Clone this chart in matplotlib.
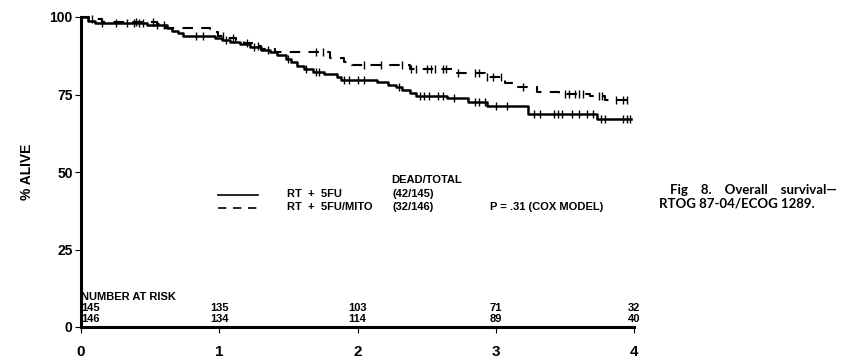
import numpy as np
import matplotlib
matplotlib.use("Agg")
import matplotlib.pyplot as plt

# RT + 5FU  (solid)
t_5fu = [0, 0.05, 0.10, 0.48, 0.62, 0.66, 0.70, 0.74, 0.97, 1.02, 1.08, 1.15, 1.22,
         1.30, 1.37, 1.42, 1.48, 1.52, 1.56, 1.61, 1.68, 1.76, 1.85, 1.88, 2.14, 2.22,
         2.28, 2.32, 2.38, 2.42, 2.65, 2.80, 2.94, 3.23, 3.73, 3.98]
s_5fu = [100, 98.8, 98.2, 97.3, 96.5, 95.5, 94.7, 93.8, 93.2, 92.5, 91.8, 91.2, 90.2,
         89.4, 88.6, 87.8, 86.5, 85.4, 84.3, 83.2, 82.4, 81.5, 80.6, 79.8, 79.0, 78.2,
         77.3, 76.5, 75.6, 74.6, 73.8, 72.6, 71.4, 68.6, 67.0, 67.0]
cens_5fu = [0.15, 0.25, 0.33, 0.38, 0.42, 0.45, 0.55, 0.60, 0.83, 0.88, 1.05, 1.25, 1.35,
            1.50, 1.63, 1.70, 1.72, 1.90, 1.94, 2.00, 2.05, 2.30, 2.45, 2.48, 2.52, 2.58,
            2.62, 2.70, 2.85, 2.88, 2.92, 3.00, 3.08, 3.28, 3.32, 3.42, 3.45, 3.48, 3.55,
            3.60, 3.66, 3.70, 3.76, 3.79, 3.92, 3.95, 3.97]

# RT + 5FU/MITO  (dashed)
t_mito = [0, 0.06, 0.15, 0.55, 0.58, 0.93, 0.99, 1.05, 1.12, 1.18, 1.25, 1.30, 1.40,
          1.80, 1.90, 1.96, 2.38, 2.68, 2.92, 3.07, 3.16, 3.30, 3.46, 3.68, 3.79, 3.98]
s_mito = [100, 99.2, 98.5, 97.8, 96.5, 95.2, 94.0, 93.2, 92.3, 91.5, 90.6, 89.6, 88.6,
          86.8, 85.5, 84.4, 83.2, 82.0, 80.6, 78.8, 77.5, 75.9, 75.2, 74.6, 73.3, 73.3]
cens_mito = [0.08, 0.40, 0.52, 1.03, 1.10, 1.20, 1.28, 1.70, 1.75, 2.05, 2.17, 2.32,
             2.39, 2.42, 2.50, 2.53, 2.56, 2.62, 2.64, 2.73, 2.85, 2.88, 2.94, 2.98,
             3.04, 3.20, 3.50, 3.53, 3.57, 3.60, 3.63, 3.75, 3.77, 3.87, 3.92, 3.95]

risk_years = [0, 1, 2, 3, 4]
risk_5fu = [145, 135, 103, 71, 32]
risk_mito = [146, 134, 114, 89, 40]

x_ticks = [0, 1, 2, 3, 4]
y_ticks = [0, 25, 50, 75, 100]


def step_value(times, surv, t):
    i = np.searchsorted(times, t, side="right") - 1
    return np.asarray(surv)[i]


fig = plt.figure(figsize=(8.66, 3.6), dpi=100)
ax = fig.add_axes([81 / 866, 1 - 327 / 360, 553 / 866, 310 / 360])

ax.step(t_5fu, s_5fu, where="post", color="black", lw=1.8, clip_on=False)
ax.step(t_mito, s_mito, where="post", color="black", lw=1.5,
        dashes=(5, 4), clip_on=False)
ax.plot(cens_5fu, step_value(t_5fu, s_5fu, cens_5fu), ls="none", marker="|",
        ms=6, mew=1.0, color="black", clip_on=False)
ax.plot(cens_mito, step_value(t_mito, s_mito, cens_mito), ls="none", marker="|",
        ms=6, mew=1.0, color="black", clip_on=False)

ax.set_xlim(0, 4)
ax.set_ylim(0, 100)
ax.set_xticks(x_ticks)
ax.set_yticks(y_ticks)
ax.set_xticklabels([str(v) for v in x_ticks], fontsize=11, fontweight="bold",
                   family="Liberation Sans")
ax.set_yticklabels([str(v) for v in y_ticks], fontsize=10, fontweight="bold",
                   family="Liberation Sans")
ax.tick_params(axis="y", length=4, width=0.8, pad=2)
ax.tick_params(axis="x", length=4, width=0.8, pad=9)
for side in ["top", "right"]:
    ax.spines[side].set_visible(False)
ax.spines["left"].set_linewidth(2.2)
ax.spines["bottom"].set_linewidth(2.2)
ax.set_ylabel("% ALIVE", fontsize=10, fontweight="bold", family="Liberation Sans",
              labelpad=11)

# legend block
lx0, lx1 = 0.99, 1.28
ax.plot([lx0, lx1], [42.6, 42.6], color="black", lw=1.2)
ax.plot([lx0, lx1], [38.4, 38.4], color="black", lw=1.2, dashes=(5, 4))
txt = dict(fontsize=8, fontweight="bold", family="Liberation Sans", va="center")
ax.text(1.49, 42.8, "RT  +  5FU", ha="left", **txt)
ax.text(1.49, 38.6, "RT  +  5FU/MITO", ha="left", **txt)
ax.text(2.5, 47.4, "DEAD/TOTAL", ha="center", **txt)
ax.text(2.40, 42.8, "(42/145)", ha="center", **txt)
ax.text(2.40, 38.6, "(32/146)", ha="center", **txt)
ax.text(2.96, 38.6, "P = .31 (COX MODEL)", ha="left", **txt)

# number at risk
nar = dict(fontsize=8, fontweight="bold", family=["Liberation Sans Narrow", "Liberation Sans"],
           va="center")
ax.text(0.0, 9.6, "NUMBER AT RISK", ha="left", **nar)
for yr, a, b in zip(risk_years, risk_5fu, risk_mito):
    ha = "left" if yr == 0 else "center"
    ax.text(yr, 6.0, str(a), ha=ha, **nar)
    ax.text(yr, 2.5, str(b), ha=ha, **nar)

# figure caption
cap = dict(fontsize=9.5, fontweight="bold", family="Lato", va="center")
fig.text(670 / 866, 1 - 190 / 360, "Fig    8.    Overall    survival\u2014", ha="left", **cap)
fig.text(659 / 866, 1 - 203 / 360, "RTOG 87-04/ECOG 1289.", ha="left", **cap)

fig.savefig("out.png", dpi=100)
